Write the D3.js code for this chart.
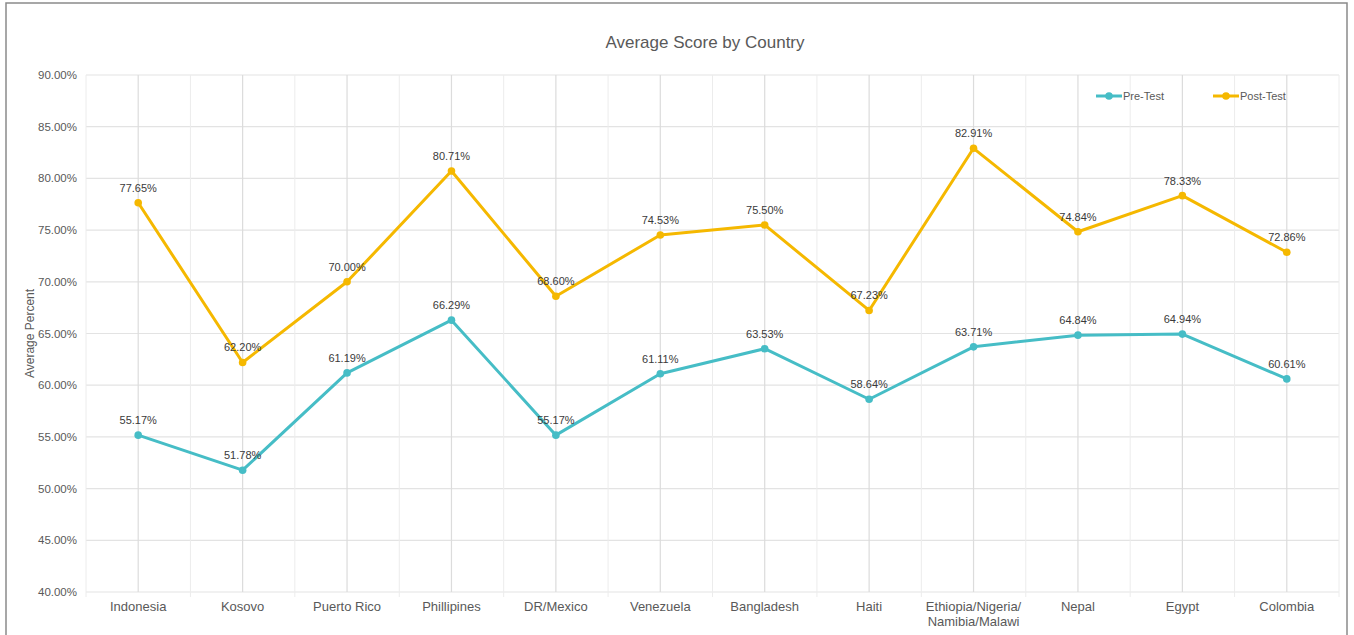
<!DOCTYPE html>
<html lang="en">
<head>
    <meta charset="UTF-8">
    <title>Average Score by Country</title>
    <script src="https://d3js.org/d3.v7.min.js"></script>
    <style>
        body {
            margin: 0;
            font-family: "Liberation Sans", Arial, sans-serif;
            background: #fff;
        }
        svg text { fill: #595959; }
    </style>
</head>
<body>
    <div id="chart"></div>

    <script>
        // data
        const countries = ["Indonesia", "Kosovo", "Puerto Rico", "Phillipines", "DR/Mexico", "Venezuela",
            "Bangladesh", "Haiti", "Ethiopia/Nigeria/\nNamibia/Malawi", "Nepal", "Egypt", "Colombia"];
        const preTest = [55.17, 51.78, 61.19, 66.29, 55.17, 61.11, 63.53, 58.64, 63.71, 64.84, 64.94, 60.61];
        const postTest = [77.65, 62.20, 70.00, 80.71, 68.60, 74.53, 75.50, 67.23, 82.91, 74.84, 78.33, 72.86];
        const yTicks = [40, 45, 50, 55, 60, 65, 70, 75, 80, 85, 90];

        const width = 1354, height = 635;
        const margin = { top: 75, right: 15, bottom: 43, left: 86 };

        const svg = d3.select("#chart").append("svg")
            .attr("width", width)
            .attr("height", height);

        // outer frame
        svg.append("rect")
            .attr("x", 6).attr("y", 3)
            .attr("width", 1341).attr("height", 640)
            .attr("fill", "none")
            .attr("stroke", "#8a8a8a")
            .attr("stroke-width", 1.5);

        const x = d3.scaleBand()
            .domain(countries)
            .range([margin.left, width - margin.right])
            .padding(0);

        const y = d3.scaleLinear()
            .domain([40, 90])
            .range([height - margin.bottom, margin.top]);

        const cx = d => x(d) + x.bandwidth() / 2;

        // horizontal grid
        svg.append("g")
            .selectAll("line")
            .data(yTicks)
            .join("line")
            .attr("x1", margin.left).attr("x2", width - margin.right)
            .attr("y1", d => y(d)).attr("y2", d => y(d))
            .attr("stroke", "#e3e3e3")
            .attr("stroke-width", 1.2);

        // vertical grid: band centres and band edges
        svg.append("g")
            .selectAll("line")
            .data(countries)
            .join("line")
            .attr("x1", d => cx(d)).attr("x2", d => cx(d))
            .attr("y1", margin.top).attr("y2", y(40))
            .attr("stroke", "#dcdcdc")
            .attr("stroke-width", 1.2);

        const edges = countries.map(d => x(d)).concat([x(countries[countries.length - 1]) + x.bandwidth()]);
        svg.append("g")
            .selectAll("line")
            .data(edges)
            .join("line")
            .attr("x1", d => d).attr("x2", d => d)
            .attr("y1", margin.top).attr("y2", y(40) + 5)
            .attr("stroke", "#ececec")
            .attr("stroke-width", 1);

        // y axis labels
        svg.append("g")
            .selectAll("text")
            .data(yTicks)
            .join("text")
            .attr("x", margin.left - 9)
            .attr("y", d => y(d))
            .attr("dy", "0.35em")
            .attr("text-anchor", "end")
            .style("font-size", "11.5px")
            .text(d => d.toFixed(2) + "%");

        // x axis labels (some wrap on two lines)
        const xl = svg.append("g")
            .selectAll("text")
            .data(countries)
            .join("text")
            .attr("x", d => cx(d))
            .attr("y", height - margin.bottom + 19)
            .attr("text-anchor", "middle")
            .style("font-size", "13px");
        xl.each(function (d) {
            const lines = d.split("\n");
            d3.select(this).selectAll("tspan")
                .data(lines)
                .join("tspan")
                .attr("x", cx(d))
                .attr("dy", (l, i) => i === 0 ? 0 : 15)
                .text(l => l);
        });

        // title
        svg.append("text")
            .attr("x", 705)
            .attr("y", 48)
            .attr("text-anchor", "middle")
            .style("font-size", "17px")
            .text("Average Score by Country");

        // y axis title
        svg.append("text")
            .attr("transform", `translate(34, ${(margin.top + y(40)) / 2}) rotate(-90)`)
            .attr("text-anchor", "middle")
            .style("font-size", "12px")
            .text("Average Percent");

        const series = [
            { name: "Pre-Test", values: preTest, color: "#46bdc6" },
            { name: "Post-Test", values: postTest, color: "#f5b800" }
        ];

        const line = d3.line()
            .x((d, i) => cx(countries[i]))
            .y(d => y(d));

        series.forEach(s => {
            svg.append("path")
                .datum(s.values)
                .attr("fill", "none")
                .attr("stroke", s.color)
                .attr("stroke-width", 3)
                .attr("stroke-linejoin", "round")
                .attr("d", line);

            svg.append("g")
                .selectAll("circle")
                .data(s.values)
                .join("circle")
                .attr("cx", (d, i) => cx(countries[i]))
                .attr("cy", d => y(d))
                .attr("r", 3.8)
                .attr("fill", s.color);

            svg.append("g")
                .selectAll("text")
                .data(s.values)
                .join("text")
                .attr("x", (d, i) => cx(countries[i]))
                .attr("y", d => y(d) - 11)
                .attr("text-anchor", "middle")
                .style("font-size", "11px")
                .style("fill", "#3a3a3a")
                .text(d => d.toFixed(2) + "%");
        });

        // legend
        const legend = svg.append("g").attr("transform", "translate(1096, 96)");
        series.forEach((s, i) => {
            const g = legend.append("g").attr("transform", `translate(${i * 117}, 0)`);
            g.append("line")
                .attr("x1", 0).attr("x2", 26)
                .attr("stroke", s.color).attr("stroke-width", 3);
            g.append("circle").attr("cx", 13).attr("r", 3.8).attr("fill", s.color);
            g.append("text")
                .attr("x", 27).attr("dy", "0.35em")
                .style("font-size", "11px")
                .text(s.name);
        });
    </script>
</body>
</html>
